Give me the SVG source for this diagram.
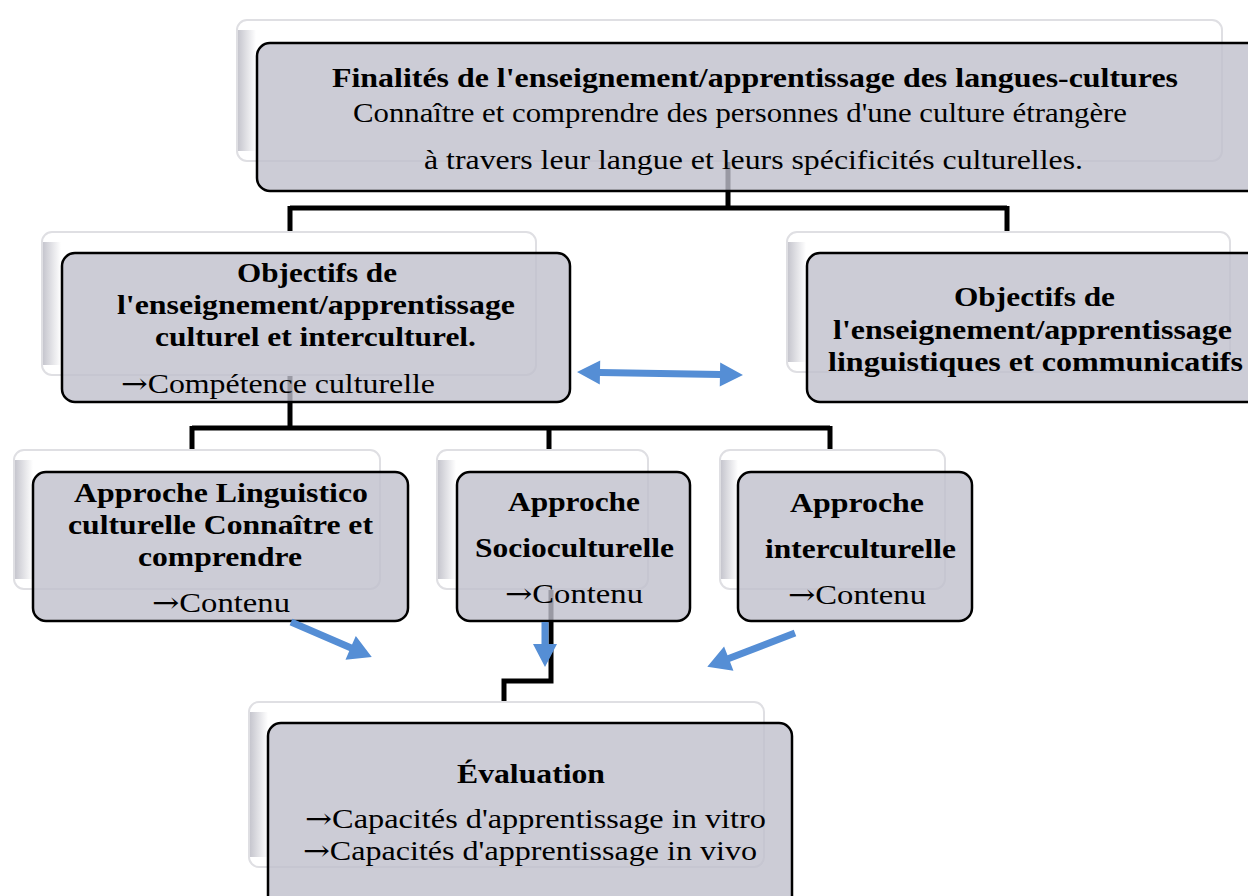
<svg xmlns="http://www.w3.org/2000/svg" width="1248" height="896" viewBox="0 0 1248 896">
  <defs>
    <linearGradient id="bevel" x1="0" y1="0" x2="1" y2="0">
      <stop offset="0" stop-color="#c6c6ce"/>
      <stop offset="1" stop-color="#ffffff"/>
    </linearGradient>
  </defs>
  <style>
    .back { fill: #ffffff; stroke: #dfdfe3; stroke-width: 2; }
    .bevel { fill: url(#bevel); }
    .front { fill: #bfbfcc; fill-opacity: 0.8; stroke: #000000; stroke-width: 2.5; }
    .link { fill: none; stroke: #000000; stroke-width: 5; stroke-linejoin: miter; }
    .blue { fill: #558ed5; stroke: none; }
    text { font-family: "Liberation Serif", "Times New Roman", serif; fill: #000000; font-size: 27px; }
    .b { font-weight: bold; }
    .ar { font-family: "DejaVu Serif", serif; }
  </style>

  <rect width="1248" height="896" fill="#ffffff"/>

  <!-- tree links (drawn beneath the boxes) -->
  <g id="connectors">
    <path class="link" d="M728,160 V208 M290,208 H1007 M290,206 V253 M1007,206 V232"/>
    <path class="link" d="M290,370 V428 M192,428 H830 M192,426 V450 M549,426 V450 M830,426 V450"/>
    <path class="link" d="M551,590 V681 H504 V702"/>
  </g>

  <!-- top goal -->
  <g id="finalites">
    <rect class="back" x="237" y="20" width="985" height="141" rx="10"/>
    <rect class="bevel" x="238" y="30" width="18" height="121"/>
    <rect class="front" x="257" y="43" width="1005" height="148" rx="13"/>
    <text class="b" x="332" y="87" textLength="846" lengthAdjust="spacingAndGlyphs">Finalités de l'enseignement/apprentissage des langues-cultures</text>
    <text x="353" y="122" textLength="774" lengthAdjust="spacingAndGlyphs">Connaître et comprendre des personnes d'une culture étrangère</text>
    <text x="424" y="169" textLength="659" lengthAdjust="spacingAndGlyphs">à travers leur langue et leurs spécificités culturelles.</text>
  </g>

  <!-- cultural objectives -->
  <g id="objectifs-culturels">
    <rect class="back" x="42" y="232" width="494" height="143" rx="10"/>
    <rect class="bevel" x="43" y="242" width="18" height="123"/>
    <rect class="front" x="62" y="253" width="508" height="149" rx="13"/>
    <text class="b" x="237" y="282" textLength="160" lengthAdjust="spacingAndGlyphs">Objectifs de</text>
    <text class="b" x="117" y="314" textLength="398" lengthAdjust="spacingAndGlyphs">l'enseignement/apprentissage</text>
    <text class="b" x="155" y="346" textLength="321" lengthAdjust="spacingAndGlyphs">culturel et interculturel.</text>
    <text x="121" y="393" textLength="314" lengthAdjust="spacingAndGlyphs"><tspan class="ar">→</tspan>Compétence culturelle</text>
  </g>

  <!-- linguistic objectives -->
  <g id="objectifs-linguistiques">
    <rect class="back" x="787" y="232" width="443" height="140" rx="10"/>
    <rect class="bevel" x="788" y="242" width="18" height="120"/>
    <rect class="front" x="807" y="253" width="460" height="149" rx="13"/>
    <text class="b" x="954" y="306" textLength="161" lengthAdjust="spacingAndGlyphs">Objectifs de</text>
    <text class="b" x="833" y="339" textLength="399" lengthAdjust="spacingAndGlyphs">l'enseignement/apprentissage</text>
    <text class="b" x="828" y="371" textLength="415" lengthAdjust="spacingAndGlyphs">linguistiques et communicatifs</text>
  </g>

  <!-- approaches -->
  <g id="approche-linguistico">
    <rect class="back" x="14" y="450" width="366" height="139" rx="10"/>
    <rect class="bevel" x="15" y="460" width="18" height="119"/>
    <rect class="front" x="33" y="472" width="375" height="149" rx="13"/>
    <text class="b" x="74" y="502" textLength="294" lengthAdjust="spacingAndGlyphs">Approche Linguistico</text>
    <text class="b" x="68" y="534" textLength="305" lengthAdjust="spacingAndGlyphs">culturelle Connaître et</text>
    <text class="b" x="138" y="566" textLength="164" lengthAdjust="spacingAndGlyphs">comprendre</text>
    <text x="152" y="612" textLength="138" lengthAdjust="spacingAndGlyphs"><tspan class="ar">→</tspan>Contenu</text>
  </g>

  <g id="approche-socio">
    <rect class="back" x="437" y="450" width="211" height="139" rx="10"/>
    <rect class="bevel" x="438" y="460" width="18" height="119"/>
    <rect class="front" x="457" y="472" width="233" height="149" rx="13"/>
    <text class="b" x="508" y="511" textLength="132" lengthAdjust="spacingAndGlyphs">Approche</text>
    <text class="b" x="475" y="557" textLength="199" lengthAdjust="spacingAndGlyphs">Socioculturelle</text>
    <text x="505" y="603" textLength="138" lengthAdjust="spacingAndGlyphs"><tspan class="ar">→</tspan>Contenu</text>
  </g>

  <g id="approche-inter">
    <rect class="back" x="720" y="450" width="225" height="139" rx="10"/>
    <rect class="bevel" x="721" y="460" width="17" height="119"/>
    <rect class="front" x="738" y="472" width="234" height="149" rx="13"/>
    <text class="b" x="790" y="512" textLength="134" lengthAdjust="spacingAndGlyphs">Approche</text>
    <text class="b" x="765" y="558" textLength="191" lengthAdjust="spacingAndGlyphs">interculturelle</text>
    <text x="788" y="604" textLength="138" lengthAdjust="spacingAndGlyphs"><tspan class="ar">→</tspan>Contenu</text>
  </g>

  <!-- evaluation -->
  <g id="evaluation">
    <rect class="back" x="249" y="702" width="515" height="165" rx="10"/>
    <rect class="bevel" x="250" y="712" width="18" height="145"/>
    <rect class="front" x="268" y="723" width="524" height="190" rx="13"/>
    <text class="b" x="457" y="783" textLength="148" lengthAdjust="spacingAndGlyphs">Évaluation</text>
    <text x="305" y="828" textLength="461" lengthAdjust="spacingAndGlyphs"><tspan class="ar">→</tspan>Capacités d'apprentissage in vitro</text>
    <text x="303" y="860" textLength="454" lengthAdjust="spacingAndGlyphs"><tspan class="ar">→</tspan>Capacités d'apprentissage in vivo</text>
  </g>

  <!-- blue block arrows -->
  <g id="arrows">
    <!-- two-way arrow between the objectives -->
    <path class="blue" transform="translate(577,372) rotate(1)" d="M0,0 L23,-12 V-3.5 H143 V-12 L166,0 L143,12 V3.5 H23 V12 Z"/>
    <path class="blue" transform="translate(291,622) rotate(23.4)" d="M0,-3.5 H65 V-13 L88,0 L65,13 V3.5 H0 Z"/>
    <path class="blue" transform="translate(545,622) rotate(90)" d="M0,-3.5 H22 V-12 L45,0 L22,12 V3.5 H0 Z"/>
    <path class="blue" transform="translate(795,633) rotate(158.9)" d="M0,-3.5 H71 V-13 L94,0 L71,13 V3.5 H0 Z"/>
  </g>
</svg>
